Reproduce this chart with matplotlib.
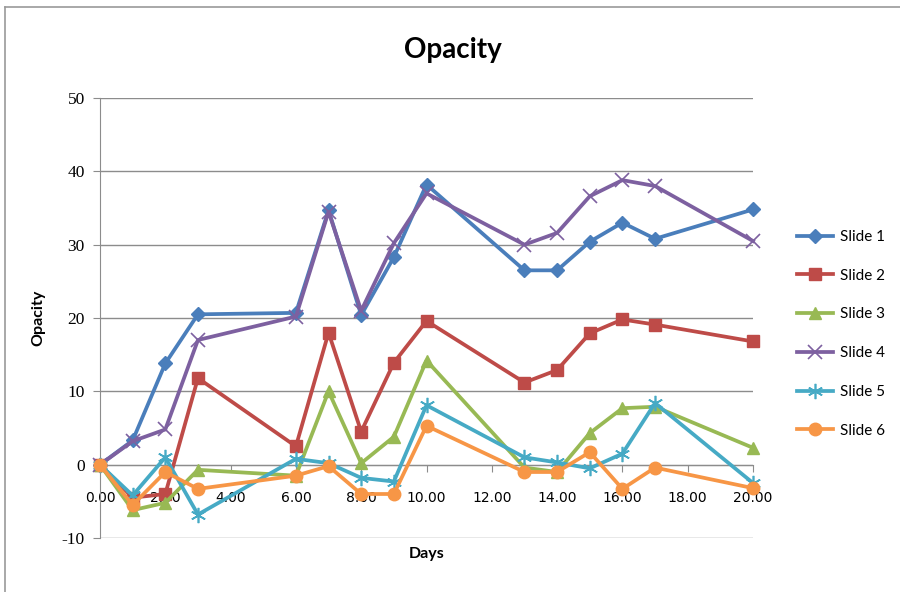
import matplotlib.pyplot as plt
from matplotlib.lines import Line2D

days = [0, 1, 2, 3, 6, 7, 8, 9, 10, 13, 14, 15, 16, 17, 20]

slide1 = [0, 3.3, 13.8, 20.5, 20.7, 34.7, 20.4, 28.3, 38.2, 26.5, 26.5, 30.4, 33.0, 30.8, 34.8]
slide2 = [0, -4.5, -4.0, 11.8, 2.5, 18.0, 4.5, 13.9, 19.6, 11.2, 12.9, 17.9, 19.8, 19.1, 16.8]
slide3 = [0, -6.2, -5.2, -0.7, -1.5, 10.0, 0.2, 3.8, 14.2, -0.4, -1.0, 4.3, 7.7, 7.9, 2.3]
slide4 = [0, 3.2, 4.8, 17.0, 20.2, 34.5, 21.0, 30.2, 37.0, 30.0, 31.6, 36.6, 38.8, 38.0, 30.5]
slide5 = [0, -4.2, 1.0, -6.8, 0.8, 0.2, -1.8, -2.3, 8.1, 1.0, 0.3, -0.5, 1.5, 8.4, -2.5]
slide6 = [0, -5.5, -1.0, -3.3, -1.5, -0.2, -4.0, -4.0, 5.3, -1.0, -1.0, 1.7, -3.3, -0.4, -3.2]

series = [slide1, slide2, slide3, slide4, slide5, slide6]
labels = ['Slide 1', 'Slide 2', 'Slide 3', 'Slide 4', 'Slide 5', 'Slide 6']
colors = ['#4A7EBB', '#BE4B48', '#98B954', '#7D60A0', '#46AAC5', '#F79646']
markers = ['D', 's', '^', 'x', (6, 2, 0), 'o']
msizes = [7, 9, 8, 10, 11, 9]
mews = [1, 1, 1, 1.2, 1.2, 1]

x_ticks = [0, 2, 4, 6, 8, 10, 12, 14, 16, 18, 20]
y_ticks = [-10, 0, 10, 20, 30, 40, 50]

sans = ['Lato', 'DejaVu Sans']
serif = ['Liberation Serif', 'DejaVu Serif']

fig = plt.figure(figsize=(9, 5.92), dpi=100)
ax = fig.add_axes([100 / 900, 1 - 538 / 592, 653 / 900, 440 / 592])

# outer chart border (only top and left are visible)
fig.add_artist(Line2D([5 / 900, 5 / 900], [0, 1 - 7 / 592], color='#9a9a9a', lw=1.2))
fig.add_artist(Line2D([5 / 900, 1], [1 - 7 / 592, 1 - 7 / 592], color='#9a9a9a', lw=1.2))

for ys, lab, c, m, ms, mw in zip(series, labels, colors, markers, msizes, mews):
    ax.plot(days, ys, color=c, lw=2.7, marker=m, markersize=ms,
            markerfacecolor=c, markeredgecolor=c, markeredgewidth=mw, label=lab,
            clip_on=False, zorder=3)

ax.set_xlim(0, 20)
ax.set_ylim(-10, 50)
ax.set_xticks(x_ticks)
ax.set_xticklabels(['%.2f' % t for t in x_ticks], fontfamily=serif, fontsize=12.5)
ax.set_yticks(y_ticks)
ax.set_yticklabels([str(t) for t in y_ticks], fontfamily=serif, fontsize=12.5)

ax.yaxis.grid(True, color='#8c8c8c', lw=1)
ax.set_axisbelow(True)
for s in ['top', 'right']:
    ax.spines[s].set_visible(False)
ax.spines['bottom'].set_position(('data', 0))
ax.spines['bottom'].set_color('#8c8c8c')
ax.spines['left'].set_color('#8c8c8c')
ax.tick_params(axis='x', direction='out', length=5, color='#8c8c8c', pad=14)
ax.tick_params(axis='y', direction='out', length=5, color='#8c8c8c', pad=6)

ax.set_xlabel('Days', fontfamily=sans, fontweight='bold', fontsize=11.5)
ax.xaxis.set_label_coords(0.5, -0.02)
ax.set_ylabel('Opacity', fontfamily=sans, fontweight='bold', fontsize=11.5)
ax.yaxis.set_label_coords(-0.083, 0.5)

fig.text(453 / 900, 1 - 50 / 592, 'Opacity', ha='center', va='center',
         fontfamily=sans, fontweight='bold', fontsize=20)

ax.legend(loc='upper left', bbox_to_anchor=(1.067, 0.70), frameon=False,
          borderpad=0, borderaxespad=0, handlelength=2.4, handletextpad=0.4,
          labelspacing=1.62, prop={'family': sans, 'size': 11})

fig.savefig('out.png', dpi=100)
